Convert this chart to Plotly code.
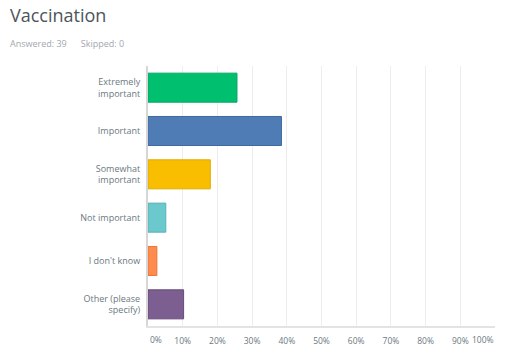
import plotly.graph_objects as go

categories = ["Extremely<br>important", "Important", "Somewhat<br>important",
              "Not important", "I don't know", "Other (please<br>specify)"]
values = [25.64, 38.46, 17.95, 5.13, 2.56, 10.26]
colors = ["#00BF6F", "#507CB6", "#F9BE00", "#6BC8CD", "#FF8B4F", "#7D5E90"]
borders = ["#00A862", "#3F68A0", "#E0AA00", "#55B2B8", "#E87738", "#674A7A"]
tick_vals = [10, 20, 30, 40, 50, 60, 70, 80, 90]
tick_text = [f"{v}%" for v in tick_vals]

fig = go.Figure(go.Bar(
    x=values, y=categories, orientation="h",
    marker=dict(color=colors, line=dict(color=borders, width=1)),
    hoverinfo="skip",
))

font = "Open Sans, Lato, sans-serif"
fig.update_layout(
    width=520, height=360,
    margin=dict(l=148, r=25, t=66, b=34),
    paper_bgcolor="white", plot_bgcolor="white",
    bargap=0.33, showlegend=False,
    font=dict(family=font, size=9, color="#6b787f"),
)
fig.update_xaxes(
    range=[0, 100], tickvals=tick_vals, ticktext=tick_text,
    showgrid=True, gridcolor="#ededed", gridwidth=1,
    ticks="outside", ticklen=6, tickcolor="rgba(0,0,0,0)",
    showline=True, linecolor="#e3e3e3", linewidth=2,
    zeroline=False, fixedrange=True, automargin=False,
    tickfont=dict(size=8.5, color="#6b787f"),
)
fig.update_yaxes(
    categoryorder="array", categoryarray=categories[::-1],
    showline=True, linecolor="#d6d6d6", linewidth=2,
    ticks="outside", ticklen=4, tickcolor="rgba(0,0,0,0)",
    showgrid=False, fixedrange=True, automargin=False,
    tickfont=dict(size=9, color="#6b787f"),
)
# end labels kept inside plot
fig.add_annotation(x=0, y=0, xref="x", yref="paper", text="0%", showarrow=False,
                   xanchor="left", yanchor="top", yshift=-6,
                   font=dict(size=8.5, color="#6b787f"))
fig.add_annotation(x=100, y=0, xref="x", yref="paper", text="100%", showarrow=False,
                   xanchor="right", yanchor="top", yshift=-6, xshift=1,
                   font=dict(size=8.5, color="#6b787f"))
fig.add_annotation(x=0, y=1, xref="paper", yref="paper", text="Vaccination",
                   showarrow=False, xanchor="left", yanchor="middle",
                   xshift=-148 + 8, yshift=66 - 15,
                   font=dict(size=18, color="#4d555b", family=font))
fig.add_annotation(x=0, y=1, xref="paper", yref="paper",
                   text="Answered: 39&nbsp;&nbsp;&nbsp;&nbsp;&nbsp;&nbsp;Skipped: 0",
                   showarrow=False, xanchor="left", yanchor="middle",
                   xshift=-148 + 8, yshift=66 - 43,
                   font=dict(size=9, color="#a3a8ad", family=font))

fig.write_html("out.html", config={"displayModeBar": False},
               post_script="document.body.style.margin='0';")
